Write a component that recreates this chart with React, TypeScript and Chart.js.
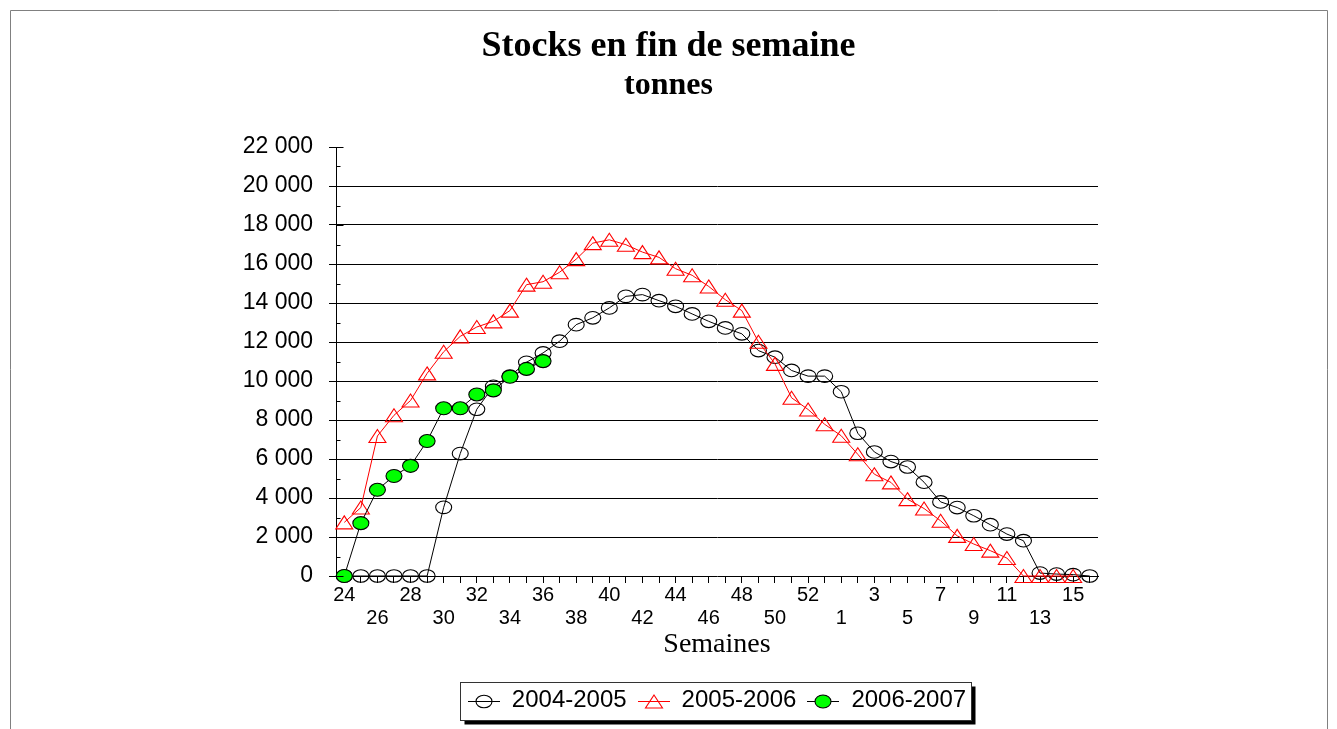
import { useEffect, useRef } from 'react';
import { Chart, registerables } from 'chart.js';

Chart.register(...registerables);

// Week numbers (2004 had an ISO week 53)
const weeks: string[] = [
  '24', '25', '26', '27', '28', '29', '30', '31', '32', '33', '34', '35', '36', '37', '38', '39',
  '40', '41', '42', '43', '44', '45', '46', '47', '48', '49', '50', '51', '52', '53',
  '1', '2', '3', '4', '5', '6', '7', '8', '9', '10', '11', '12', '13', '14', '15', '16',
];

const seriesNames: string[] = ['2004-2005', '2005-2006', '2006-2007'];

const stocks0405: (number | null)[] = [
  0, 0, 0, 0, 0, 0, 3520, 6280, 8550, 9730, 10250, 10960, 11440, 12040, 12890, 13240,
  13750, 14340, 14430, 14120, 13830, 13440, 13060, 12720, 12420, 11560, 11220, 10540, 10250, 10250,
  9450, 7320, 6360, 5870, 5590, 4810, 3800, 3510, 3090, 2630, 2150, 1810, 150, 100, 70, 0,
];

const stocks0506: (number | null)[] = [
  2750, 3510, 7180, 8240, 9000, 10390, 11500, 12290, 12770, 13060, 13610, 14940, 15090, 15580, 16250, 17070,
  17240, 16990, 16610, 16340, 15760, 15420, 14850, 14170, 13610, 12010, 10880, 9140, 8540, 7780,
  7190, 6240, 5220, 4800, 3940, 3460, 2830, 2060, 1640, 1300, 920, 0, 0, 0, 0, null,
];

const stocks0607: (number | null)[] = [
  0, 2710, 4420, 5130, 5650, 6920, 8600, 8600, 9310, 9520, 10220, 10620, 11020,
  null, null, null, null, null, null, null, null, null, null, null, null, null, null, null, null, null,
  null, null, null, null, null, null, null, null, null, null, null, null, null, null, null, null,
];

const yTicksMax = 22000;
const yStep = 2000;

const SERIF = "'Liberation Serif', 'Times New Roman', serif";
const SANS = "'Liberation Sans', Arial, sans-serif";

function fmtThousands(v: number): string {
  return Math.round(v).toString().replace(/\B(?=(\d{3})+(?!\d))/g, ' ');
}

function drawEllipse(ctx: CanvasRenderingContext2D, cx: number, cy: number, rx: number, ry: number, fill: string | null) {
  ctx.beginPath();
  ctx.ellipse(cx, cy, rx, ry, 0, 0, Math.PI * 2);
  if (fill) {
    ctx.fillStyle = fill;
    ctx.fill();
  }
  ctx.strokeStyle = '#000';
  ctx.lineWidth = 1.1;
  ctx.stroke();
}

function drawTriangle(ctx: CanvasRenderingContext2D, cx: number, cy: number, w: number, h: number) {
  ctx.beginPath();
  ctx.moveTo(cx, cy - h / 2);
  ctx.lineTo(cx + w / 2, cy + h / 2);
  ctx.lineTo(cx - w / 2, cy + h / 2);
  ctx.closePath();
  ctx.strokeStyle = '#FF0000';
  ctx.lineWidth = 1.1;
  ctx.stroke();
}

function drawMarker(ctx: CanvasRenderingContext2D, kind: number, x: number, y: number) {
  if (kind === 0) drawEllipse(ctx, x, y, 8, 6.3, null);
  else if (kind === 1) drawTriangle(ctx, x, y, 17, 13);
  else drawEllipse(ctx, x, y, 8, 6.5, '#00FF00');
}

function blankGlyph() {
  const c = document.createElement('canvas');
  c.width = 32;
  c.height = 16;
  return c;
}

const framePlugin = {
  id: 'frameAndLegendBox',
  beforeDraw(chart: any) {
    const ctx = chart.ctx as CanvasRenderingContext2D;
    ctx.save();
    ctx.fillStyle = '#fff';
    ctx.fillRect(0, 0, chart.width, chart.height);
    ctx.strokeStyle = '#808080';
    ctx.lineWidth = 1;
    ctx.beginPath();
    ctx.moveTo(10.5, chart.height);
    ctx.lineTo(10.5, 10.5);
    ctx.lineTo(1327.5, 10.5);
    ctx.lineTo(1327.5, chart.height);
    ctx.stroke();
    const hb = chart.legend && chart.legend.legendHitBoxes;
    if (hb && hb.length) {
      let l = Infinity, r = -Infinity, t = Infinity, b = -Infinity;
      hb.forEach((h: any) => {
        l = Math.min(l, h.left);
        r = Math.max(r, h.left + h.width);
        t = Math.min(t, h.top);
        b = Math.max(b, h.top + h.height);
      });
      const x0 = Math.round(l - 8) + 0.5;
      const x1 = Math.round(r + 5) + 0.5;
      const y0 = Math.round(t - 7) + 0.5;
      const y1 = Math.round(b + 7) + 0.5;
      ctx.fillStyle = '#000';
      ctx.fillRect(x0 + 4, y0 + 4, x1 - x0, y1 - y0);
      ctx.fillStyle = '#fff';
      ctx.fillRect(x0, y0, x1 - x0, y1 - y0);
      ctx.strokeStyle = '#333';
      ctx.strokeRect(x0, y0, x1 - x0, y1 - y0);
    }
    ctx.restore();
  },
};

// Markers drawn right after each dataset's line, at the element positions computed by Chart.js
const markerPlugin = {
  id: 'ellipseMarkers',
  afterDatasetDraw(chart: any, args: any) {
    const ctx = chart.ctx as CanvasRenderingContext2D;
    const meta = args.meta;
    const kind = args.index;
    ctx.save();
    meta.data.forEach((pt: any) => {
      if (pt.skip) return;
      drawMarker(ctx, kind, pt.x, pt.y);
    });
    ctx.restore();
  },
};

const overlayPlugin = {
  id: 'minorTicksAndLegendGlyphs',
  afterDraw(chart: any) {
    const ctx = chart.ctx as CanvasRenderingContext2D;
    const y = chart.scales.y;
    const x0 = Math.round(chart.chartArea.left) + 0.5;
    ctx.save();
    ctx.strokeStyle = '#000';
    ctx.lineWidth = 1;
    ctx.beginPath();
    for (let v = 0; v <= yTicksMax; v += 1000) {
      const py = Math.round(y.getPixelForValue(v)) + 0.5;
      const len = v % yStep === 0 ? 7 : 4;
      ctx.moveTo(x0, py);
      ctx.lineTo(x0 + len, py);
    }
    ctx.stroke();
    const hb = chart.legend && chart.legend.legendHitBoxes;
    if (hb) {
      hb.forEach((h: any, i: number) => {
        const lx = Math.round(h.left);
        const ly = Math.round(h.top + h.height / 2) + 0.5;
        ctx.strokeStyle = i === 1 ? '#FF0000' : '#000';
        ctx.lineWidth = 1;
        ctx.beginPath();
        ctx.moveTo(lx, ly);
        ctx.lineTo(lx + 32, ly);
        ctx.stroke();
        drawMarker(ctx, i, lx + 16, ly);
      });
    }
    ctx.restore();
  },
};

export default function App() {
  const ref = useRef<HTMLCanvasElement | null>(null);

  useEffect(() => {
    document.body.style.margin = '0';
    if (!ref.current) return;
    const blank = blankGlyph();

    const chart = new Chart(ref.current, {
      type: 'line',
      data: {
        labels: weeks,
        datasets: [
          {
            label: seriesNames[0],
            data: stocks0405,
            borderColor: '#000',
            borderWidth: 1,
            pointRadius: 0,
            tension: 0,
            clip: false as any,
            order: 2,
          },
          {
            label: seriesNames[1],
            data: stocks0506,
            borderColor: '#FF0000',
            borderWidth: 1,
            pointRadius: 0,
            tension: 0,
            clip: false as any,
            order: 1,
          },
          {
            label: seriesNames[2],
            data: stocks0607,
            borderColor: '#000',
            borderWidth: 1,
            pointRadius: 0,
            tension: 0,
            clip: false as any,
            order: 0,
          },
        ],
      },
      options: {
        responsive: false,
        animation: false,
        devicePixelRatio: 1,
        events: [],
        layout: { padding: { left: 0, right: 0, top: 0, bottom: 6.5 } },
        plugins: {
          title: {
            display: true,
            text: 'Stocks en fin de semaine',
            color: '#000',
            font: { family: SERIF, size: 36, weight: 'bold', lineHeight: 1 },
            padding: { top: 29, bottom: 5 },
          },
          subtitle: {
            display: true,
            text: 'tonnes',
            color: '#000',
            font: { family: SERIF, size: 32, weight: 'bold', lineHeight: 1 },
            padding: { top: 0, bottom: 45 },
          },
          legend: {
            position: 'bottom',
            fullSize: false,
            labels: {
              usePointStyle: true,
              pointStyleWidth: 32,
              padding: 11,
              color: '#000',
              font: { family: SANS, size: 24 },
              generateLabels: () =>
                seriesNames.map((name, i) => ({
                  text: name,
                  pointStyle: blank as any,
                  fillStyle: '#fff',
                  strokeStyle: '#000',
                  lineWidth: 1,
                  hidden: false,
                  datasetIndex: i,
                  fontColor: '#000',
                })),
            },
          },
          tooltip: { enabled: false },
        },
        scales: {
          x: {
            type: 'category',
            offset: true,
            grid: {
              display: true,
              drawOnChartArea: false,
              drawTicks: true,
              tickLength: 7,
              color: '#000',
              offset: false,
            },
            border: { display: true, color: '#000', width: 1 },
            ticks: {
              autoSkip: false,
              maxRotation: 0,
              minRotation: 0,
              padding: 1,
              color: '#000',
              font: { family: SANS, size: 20, lineHeight: 1.15 },
              callback: (_value: any, index: number) => {
                if (index % 2 !== 0) return '';
                const lab = weeks[index];
                return (index / 2) % 2 === 0 ? [lab] : ['', lab];
              },
            },
            title: {
              display: true,
              text: 'Semaines',
              color: '#000',
              font: { family: SERIF, size: 28, lineHeight: 1 },
              padding: { top: 0, bottom: 18.5 },
            },
          },
          y: {
            position: 'left',
            min: 0,
            max: yTicksMax,
            ticks: {
              stepSize: yStep,
              padding: 16,
              color: '#000',
              font: { family: SANS, size: 23 },
              callback: (v: any) => fmtThousands(Number(v)),
            },
            grid: {
              color: (ctx: any) =>
                ctx.tick && (ctx.tick.value === 0 || ctx.tick.value === yTicksMax) ? 'rgba(0,0,0,0)' : '#000',
              tickColor: '#000',
              tickLength: 7,
              drawTicks: true,
              lineWidth: 1,
            },
            border: { display: true, color: '#000', width: 1 },
            afterFit: (s: any) => {
              s.width = 336;
            },
          },
          yRight: {
            type: 'linear',
            position: 'right',
            display: true,
            grid: { display: false, drawTicks: false },
            border: { display: false },
            ticks: { display: false },
            afterFit: (s: any) => {
              s.width = 239;
            },
          },
        },
      } as any,
      plugins: [framePlugin, markerPlugin, overlayPlugin],
    });
    return () => chart.destroy();
  }, []);

  return (
    <div style={{ width: 1337, height: 729 }}>
      <canvas ref={ref} width={1337} height={729} style={{ display: 'block' }} />
    </div>
  );
}
